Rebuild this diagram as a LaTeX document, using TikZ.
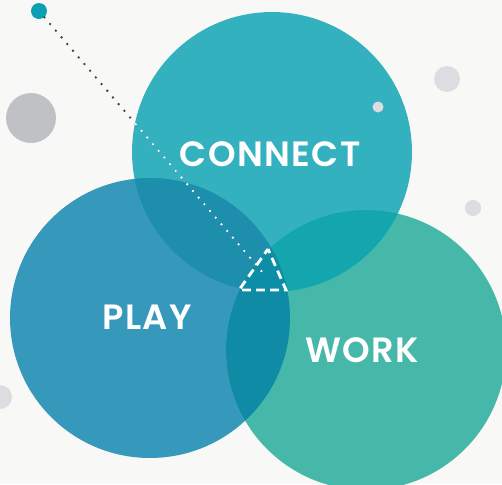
\documentclass[tikz,border=0pt]{standalone}
\usepackage{fontspec}
\setmainfont{Poppins}[BoldFont={Poppins SemiBold}]
\usetikzlibrary{positioning}
\definecolor{bgcol}{HTML}{F8F8F7}
\definecolor{conncol}{HTML}{34B1BF}
\definecolor{playcol}{HTML}{3699BB}
\definecolor{workcol}{HTML}{46B8AA}
\definecolor{cpcol}{HTML}{1D8EAB}
\definecolor{pwcol}{HTML}{0F8BA5}
\definecolor{cwcol}{HTML}{13A6AE}
\definecolor{cpwcol}{HTML}{0C8EA6}
\definecolor{greydot}{HTML}{C0C1C5}
\definecolor{lightdot}{HTML}{DCDDE0}
\definecolor{pindot}{HTML}{0BA0B2}
\newfontfamily\lblfont{Poppins SemiBold}[LetterSpace=4]
\tikzset{
  lbl/.style={text=white, font=\fontsize{20}{20}\lblfont, inner sep=0pt},
  dots/.style={line width=1.5pt, line cap=round, dash pattern=on 0pt off 5pt}
}

\begin{document}
\begin{tikzpicture}[x=0.02cm, y=-0.02cm]

% Background
\fill[bgcol] (0,0) rectangle (502,484);
\useasboundingbox (0,0) rectangle (502,484);

% Grey dots
\fill[greydot] (31,118) circle (0.5cm);
\fill[lightdot] (447,79) circle (0.26cm);
\fill[lightdot] (473,208) circle (0.16cm);
\fill[lightdot] (0,397) circle (0.24cm);

% Circle centres
\coordinate (c) at (272,152);
\coordinate (p) at (150,318);
\coordinate (w) at (366,350);

% Circles
\fill[conncol] (c) circle (2.8cm);
\fill[playcol] (p) circle (2.8cm);
\fill[workcol] (w) circle (2.8cm);
\begin{scope}
  \clip (c) circle (2.8cm);
  \fill[cpcol] (p) circle (2.8cm);
  \fill[cwcol] (w) circle (2.8cm);
\end{scope}
\begin{scope}
  \clip (p) circle (2.8cm);
  \fill[pwcol] (w) circle (2.8cm);
  \clip (c) circle (2.8cm);
  \fill[cpwcol] (w) circle (2.8cm);
\end{scope}
\fill[lightdot] (378,107) circle (0.11cm);

% Pin and dotted line
\node (pin) [circle, fill=pindot, minimum size=0.32cm, inner sep=0pt] at (39,11) {};
\coordinate (tip) at (264,274);
\draw[dots, black!75] (pin) -- (tip);
\begin{scope}
  \clip (c) circle (2.8cm) (p) circle (2.8cm);
  \draw[dots, white] (pin) -- (tip);
\end{scope}

% Dashed triangle
\coordinate (t1) at (268,249);
\coordinate (t2) at (239,290);
\coordinate (t3) at (286,290);
\draw[white, line width=1.6pt, dash pattern=on 5pt off 3pt, dash phase=2.5pt] (t1) -- (t3) -- (t2) -- cycle;

% Labels
\node (connect) [lbl] at (270,154) {CONNECT};
\node (play) [lbl] at (147,317) {PLAY};
\node (work) [lbl] at (362,350) {WORK};

\end{tikzpicture}
\end{document}
